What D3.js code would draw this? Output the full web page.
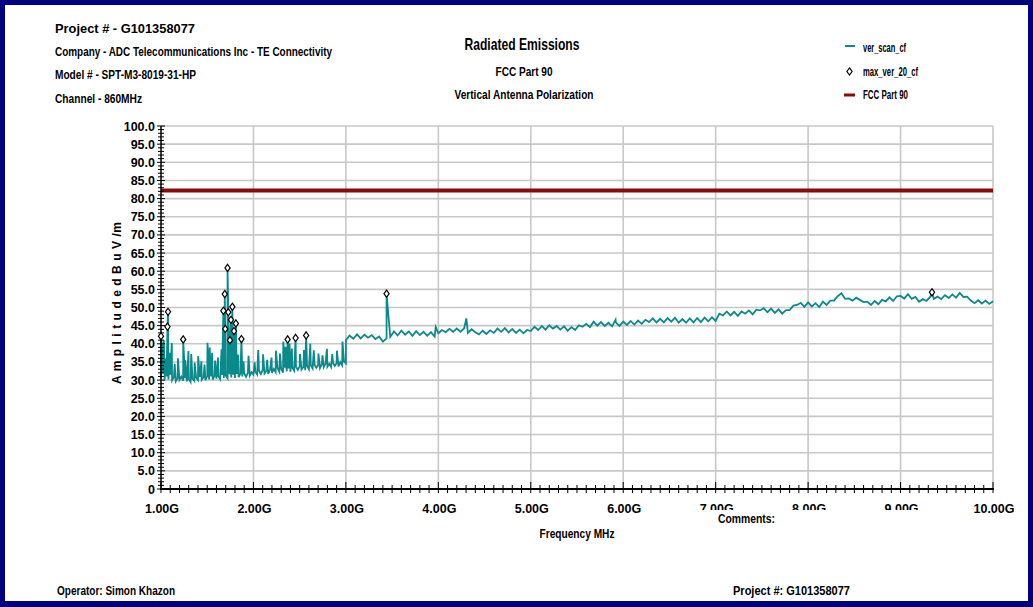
<!DOCTYPE html>
<html><head><meta charset="utf-8">
<script src="https://cdn.jsdelivr.net/npm/d3@7"></script>
<style>
body{margin:0;background:#fff}
svg text{font-family:"Liberation Sans Narrow","Arial Narrow","Liberation Sans",Arial,sans-serif;font-weight:bold;fill:#000}
</style>
</head><body><svg id="c" width="1033" height="607"></svg>
<script>
// ---------------- DATA ----------------
const headerLines = ["Project # - G101358077","Company - ADC Telecommunications Inc - TE Connectivity","Model # - SPT-M3-8019-31-HP","Channel - 860MHz"];
const titleLines = ["Radiated Emissions","FCC Part 90","Vertical Antenna Polarization"];
const legendLabels = ["ver_scan_cf","max_ver_20_cf","FCC Part 90"];
const yTickValues = [0,5,10,15,20,25,30,35,40,45,50,55,60,65,70,75,80,85,90,95,100];
const yTickLabels = ["0","5.0","10.0","15.0","20.0","25.0","30.0","35.0","40.0","45.0","50.0","55.0","60.0","65.0","70.0","75.0","80.0","85.0","90.0","95.0","100.0"];
const xTickValues = [1,2,3,4,5,6,7,8,9,10];
const xTickLabels = ["1.00G","2.00G","3.00G","4.00G","5.00G","6.00G","7.00G","8.00G","9.00G","10.00G"];
const limitLevel = 82.2; // FCC Part 90 limit, dBuV/m

// ver_scan_cf : 1.00–3.00 GHz, 0.02 GHz steps
const scanLowStart = 1.00, scanLowStep = 0.02;
const scanLow = [
30.4,31.9,30.1,31.0,30.2,31.5,29.9,30.8,29.7,30.6,
30.1,31.0,29.8,30.5,29.6,30.3,29.5,30.4,29.8,30.7,
30.0,30.9,30.1,30.8,30.0,31.1,30.2,31.0,30.1,31.2,
30.4,31.1,30.3,31.4,30.6,31.3,30.5,31.6,30.7,31.5,
30.6,31.7,30.8,31.8,31.0,31.9,30.9,32.1,31.2,32.2,
31.5,32.4,31.6,32.6,31.7,32.8,31.8,32.5,31.7,32.9,
32.0,33.1,32.2,33.3,32.3,33.1,32.1,33.4,32.4,33.2,
32.3,33.5,32.6,33.7,32.8,33.8,32.9,33.6,32.7,33.9,
33.0,34.1,33.2,34.3,33.4,34.1,33.3,34.4,33.6,34.6,
33.7,34.5,33.6,34.8,33.9,34.7,33.8,35.0,34.1,35.1,
34.6];
// ver_scan_cf : 3.00–10.00 GHz, 0.04 GHz steps
const scanHighStart = 3.00, scanHighStep = 0.04;
const scanHigh = [
41.0,42.3,41.4,42.6,41.5,42.5,41.7,42.4,41.3,42.0,
40.6,41.5,41.9,43.4,42.3,43.6,42.5,43.4,42.2,43.5,
42.4,43.3,42.2,43.2,42.0,42.9,43.8,43.2,44.1,43.3,
44.2,43.3,44.3,43.0,44.0,43.2,42.6,43.6,42.7,43.7,
43.0,44.2,43.3,44.3,43.1,44.1,43.0,43.9,42.9,43.8,
43.5,44.7,43.8,44.9,43.9,45.1,44.2,44.9,43.9,44.8,
43.6,44.6,43.8,45.1,44.7,45.5,44.6,46.1,45.0,46.0,
44.9,45.8,44.8,45.9,44.9,46.1,45.2,46.3,45.3,46.4,
45.5,46.6,46.0,47.0,45.9,46.9,45.9,47.1,46.1,47.2,
45.8,46.8,45.8,47.0,45.9,47.1,46.0,47.2,46.2,47.3,
46.3,48.3,47.8,48.9,47.8,48.8,47.7,48.9,48.3,49.2,
48.1,49.4,49.2,49.8,48.7,49.7,48.5,49.5,48.3,49.3,
49.3,50.5,50.7,51.3,50.2,51.4,50.3,51.2,50.1,51.6,
50.7,51.9,51.9,53.1,53.9,52.4,52.5,51.9,52.7,52.1,
51.5,51.6,50.7,51.8,50.9,52.1,51.7,52.8,51.8,53.1,
53.2,52.5,53.7,52.4,52.9,51.6,52.3,51.8,52.9,52.4,
53.0,52.3,53.4,52.6,53.6,52.7,54.0,52.9,53.0,51.9,
51.2,52.0,51.1,51.9,51.0,51.7];
// narrow emissions in the scan [GHz, dBuV/m]
const scanSpikes = [
[1.013,38.5],[1.031,41.0],[1.047,36.0],[1.093,37.5],[1.117,40.2],[1.148,34.5],[1.183,36.0],
[1.262,35.5],[1.297,38.0],[1.327,37.2],[1.364,34.8],[1.402,36.6],[1.437,35.2],[1.471,34.3],
[1.503,40.3],[1.527,39.0],[1.553,37.5],[1.585,35.4],[1.617,36.2],[1.655,38.5],[1.687,40.4],
[1.733,39.5],[1.765,38.8],[1.803,40.1],[1.836,37.0],[1.893,35.2],[1.947,36.7],[2.013,34.9],
[2.052,38.3],[2.104,37.1],[2.148,35.6],[2.196,36.2],[2.243,38.1],[2.287,37.3],[2.323,40.6],
[2.347,39.2],[2.391,40.1],[2.416,38.7],[2.503,37.2],[2.547,38.3],[2.615,40.0],[2.653,38.2],
[2.703,37.3],[2.747,36.8],[2.795,38.6],[2.853,37.2],[2.903,38.1],[2.963,40.6],
[3.972,44.6],[4.303,47.0],[5.917,46.6]];
// max_ver_20_cf [GHz, dBuV/m]
const maxPeaks = [
[1.000,42.1],[1.070,44.7],[1.076,48.8],[1.240,41.2],[1.675,49.1],[1.690,53.7],[1.695,44.1],
[1.720,60.9],[1.728,48.7],[1.746,41.0],[1.757,46.6],[1.772,50.2],[1.790,43.5],[1.810,45.6],
[1.870,41.3],[2.370,41.2],[2.456,41.6],[2.570,42.3],[3.440,53.8],[9.340,54.2]];

// ---------------- DRAW ----------------
const W=1033,H=607;
const svg=d3.select("#c");
svg.append("rect").attr("width",W).attr("height",H).attr("fill","#000080");
svg.append("rect").attr("x",5).attr("y",5).attr("width",1023).attr("height",596).attr("fill","#fff");

const x=d3.scaleLinear().domain([1,10]).range([161,993]);
const y=d3.scaleLinear().domain([0,100]).range([489,126]);

function txt(s,px,py,size,len,anchor){
  const t=svg.append("text").attr("x",px).attr("y",py).attr("font-size",size).text(s);
  if(anchor) t.attr("text-anchor",anchor);
  if(len) t.attr("textLength",len).attr("lengthAdjust","spacingAndGlyphs");
  return t;
}
// header
const hdrY=[33,56,79,103], hdrLen=[140,277,141,87];
headerLines.forEach((s,i)=>txt(s,55,hdrY[i],12.5,hdrLen[i]));
// titles
txt(titleLines[0],522,50,17,115,"middle");
txt(titleLines[1],524,76,13,57,"middle");
txt(titleLines[2],524,99,13,139,"middle");

// grid
const g=svg.append("g");
g.selectAll("line.h").data(yTickValues.filter(v=>v>0)).join("line")
 .attr("x1",x(1)).attr("x2",x(10)).attr("y1",d=>y(d)).attr("y2",d=>y(d))
 .attr("stroke","#c8c8c8").attr("stroke-width",1.6);
g.selectAll("line.v").data(xTickValues.filter(v=>v>1)).join("line")
 .attr("x1",d=>x(d)).attr("x2",d=>x(d)).attr("y1",y(100)).attr("y2",y(0))
 .attr("stroke","#c8c8c8").attr("stroke-width",1.6);

// limit line
svg.append("line").attr("x1",x(1)).attr("x2",x(10)).attr("y1",y(limitLevel)).attr("y2",y(limitLevel))
 .attr("stroke","#8b0a0a").attr("stroke-width",4);

// trace
const trace=[];
scanLow.forEach((v,i)=>trace.push([+(scanLowStart+i*scanLowStep).toFixed(3),v,0]));
scanHigh.forEach((v,i)=>trace.push([+(scanHighStart+i*scanHighStep).toFixed(3),v,1]));
scanSpikes.forEach(d=>trace.push([d[0],d[1],2]));
maxPeaks.forEach(d=>trace.push([d[0],d[1],2]));
trace.sort((a,b)=>a[0]-b[0] || a[2]-b[2]);
const line=d3.line().x(d=>x(d[0])).y(d=>y(d[1]));
svg.append("path").datum(trace).attr("d",line).attr("fill","none")
 .attr("stroke","#0a8a8a").attr("stroke-width",1.8).attr("stroke-linejoin","miter");

// axes
const ax=svg.append("g").attr("stroke","#000");
ax.append("line").attr("x1",x(1)).attr("x2",x(1)).attr("y1",y(100)).attr("y2",y(0)).attr("stroke-width",1.5);
ax.append("line").attr("x1",x(1)-1).attr("x2",x(10)+1).attr("y1",y(0)).attr("y2",y(0)).attr("stroke-width",2.2);
const yMinor=d3.range(0,100.5,1);
ax.selectAll("line.ym").data(yMinor).join("line")
 .attr("x1",d=>x(1)-(d%5===0?4:3)).attr("x2",d=>x(1)+(d%5===0?4:3))
 .attr("y1",d=>y(d)).attr("y2",d=>y(d)).attr("stroke-width",1);
const xMinor=d3.range(10,100.5,1).map(d=>d/10);
ax.selectAll("line.xm").data(xMinor).join("line")
 .attr("x1",d=>x(d)).attr("x2",d=>x(d))
 .attr("y1",d=>y(0)-(Number.isInteger(d)?7:4)).attr("y2",d=>y(0)+4).attr("stroke-width",1);

// y tick labels
yTickValues.forEach((v,i)=>txt(yTickLabels[i],155,y(v)+4.5,12.5,null,"end"));
// x tick labels
xTickValues.forEach((v,i)=>txt(xTickLabels[i],x(v)+1,513,12.5,null,"middle"));
// white "Comments" box covering label bottoms
svg.append("rect").attr("x",700).attr("y",510).attr("width",262).attr("height",16).attr("fill","#fff");
txt("Comments:",718,523,13,57);

// axis titles
txt("Frequency MHz",577,538,13,75,"middle");
svg.append("text").attr("transform","translate(121,303) rotate(-90)").attr("text-anchor","middle")
 .attr("font-size",12).attr("textLength",162).attr("lengthAdjust","spacing")
 .text("A m p l i t u d e  d B u V /m");

// markers
const diamond="M0,-3.6L2.6,0L0,3.6L-2.6,0Z";
svg.selectAll("path.mk").data(maxPeaks).join("path")
 .attr("d",diamond).attr("transform",d=>`translate(${x(d[0])},${y(d[1])})`)
 .attr("fill","#fff").attr("stroke","#000").attr("stroke-width",1.2);

// legend
svg.append("line").attr("x1",845).attr("x2",855).attr("y1",46).attr("y2",46).attr("stroke","#0a8a8a").attr("stroke-width",2);
svg.append("path").attr("d",diamond).attr("transform","translate(849.5,71.5)").attr("fill","#fff").attr("stroke","#000").attr("stroke-width",1.2);
svg.append("line").attr("x1",844).attr("x2",855).attr("y1",95).attr("y2",95).attr("stroke","#8b0a0a").attr("stroke-width",3);
const legY=[52,76,99], legLen=[43,55,45];
legendLabels.forEach((s,i)=>txt(s,863,legY[i],12,legLen[i]));

// footer
txt("Operator: Simon Khazon",57,595,12.5,118);
txt("Project #: G101358077",733,595,12.5,117);
</script>
</body></html>
